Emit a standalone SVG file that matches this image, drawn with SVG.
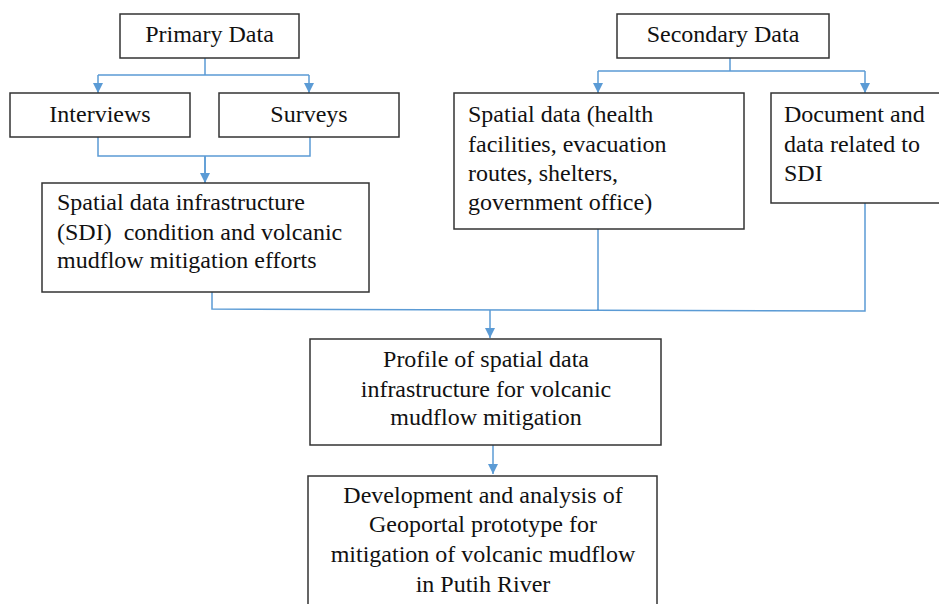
<svg xmlns="http://www.w3.org/2000/svg" width="939" height="604" viewBox="0 0 939 604">
<defs>
<marker id="ah" viewBox="0 0 10 10" refX="10" refY="5" markerWidth="10" markerHeight="10" markerUnits="userSpaceOnUse" orient="auto">
<path d="M0,0 L10,5 L0,10 z" fill="#5b9bd5"/>
</marker>
<style>
.box{fill:#fff;stroke:#333;stroke-width:1.5}
.t{font-family:'Liberation Serif', 'DejaVu Serif', serif;font-size:24px;fill:#111;white-space:pre}
.c{text-anchor:middle}
.ln{fill:none;stroke:#5b9bd5;stroke-width:1.5}
</style>
</defs>
<rect width="939" height="604" fill="#fff"/>
<g id="connectors">
<path class="ln" d="M205,58 V75 M98,75 H309"/>
<path class="ln" d="M98,75 V93" marker-end="url(#ah)"/>
<path class="ln" d="M309,75 V93" marker-end="url(#ah)"/>
<path class="ln" d="M98,137 V156 H310 V137 M205,156 V183"/>
<path class="ln" d="M205,156 V183" marker-end="url(#ah)"/>
<path class="ln" d="M730,58 V71 M598,71 H865"/>
<path class="ln" d="M598,71 V93" marker-end="url(#ah)"/>
<path class="ln" d="M865,71 V93" marker-end="url(#ah)"/>
<path class="ln" d="M212,292 V309 L865,311 V203 M598,229 V310.5"/>
<path class="ln" d="M490,310 V338" marker-end="url(#ah)"/>
<path class="ln" d="M493,445 V474" marker-end="url(#ah)"/>
</g>
<g id="primary">
<rect class="box" x="120" y="14" width="179" height="44"/>
<text class="t c" x="209.5" y="42">Primary Data</text>
</g>
<g id="interviews">
<rect class="box" x="10" y="93" width="180" height="44"/>
<text class="t c" x="100" y="122">Interviews</text>
</g>
<g id="surveys">
<rect class="box" x="219" y="93" width="180" height="44"/>
<text class="t c" x="309" y="122">Surveys</text>
</g>
<g id="sdi">
<rect class="box" x="42" y="183" width="327" height="109"/>
<text class="t" x="57" y="210">Spatial data infrastructure</text>
<text class="t" x="57" y="240">(SDI)  condition and volcanic</text>
<text class="t" x="57" y="268">mudflow mitigation efforts</text>
</g>
<g id="secondary">
<rect class="box" x="617" y="14" width="212" height="44"/>
<text class="t c" x="723" y="42">Secondary Data</text>
</g>
<g id="spatial">
<rect class="box" x="454" y="93" width="290" height="136"/>
<text class="t" x="468" y="122">Spatial data (health</text>
<text class="t" x="468" y="152">facilities, evacuation</text>
<text class="t" x="468" y="181">routes, shelters,</text>
<text class="t" x="468" y="210">government office)</text>
</g>
<g id="document">
<rect class="box" x="771" y="93" width="175" height="110"/>
<text class="t" x="784" y="122">Document and</text>
<text class="t" x="784" y="152">data related to</text>
<text class="t" x="784" y="181">SDI</text>
</g>
<g id="profile">
<rect class="box" x="310" y="339" width="351" height="106"/>
<text class="t c" x="486" y="367">Profile of spatial data</text>
<text class="t c" x="486" y="397">infrastructure for volcanic</text>
<text class="t c" x="486" y="425">mudflow mitigation</text>
</g>
<g id="geoportal">
<rect class="box" x="308" y="476" width="349" height="140"/>
<text class="t c" x="483" y="503">Development and analysis of</text>
<text class="t c" x="483" y="532">Geoportal prototype for</text>
<text class="t c" x="483" y="562">mitigation of volcanic mudflow</text>
<text class="t c" x="483" y="592">in Putih River</text>
</g>
</svg>
